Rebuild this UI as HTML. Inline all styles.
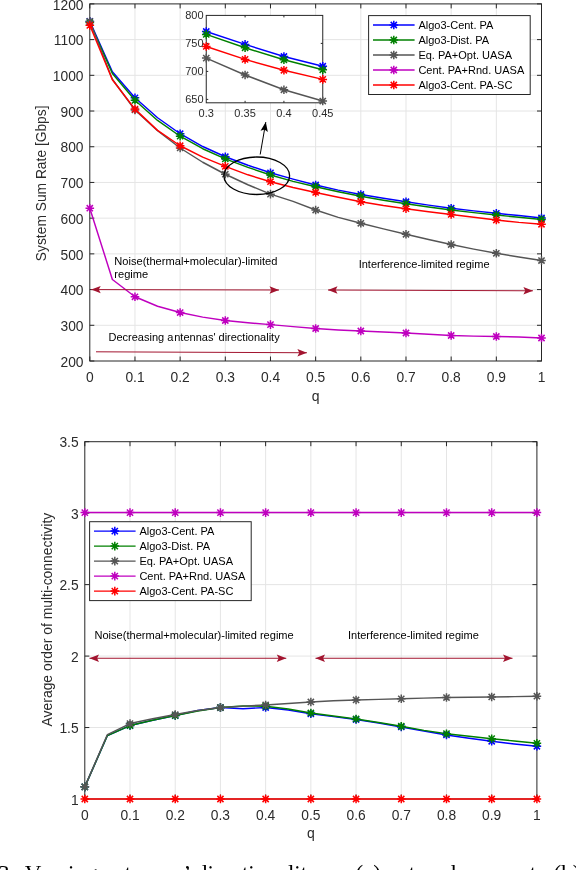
<!DOCTYPE html>
<html><head><meta charset="utf-8"><style>
html,body{margin:0;padding:0;background:#fff;width:576px;height:870px;overflow:hidden}
svg{display:block;will-change:transform}
text{font-family:"Liberation Sans", sans-serif}
</style></head><body>
<svg width="576" height="870" viewBox="0 0 576 870">
<rect width="576" height="870" fill="#fff"/>
<line x1="134.97" y1="3.9" x2="134.97" y2="361" stroke="#e5e5e5" stroke-width="1"/>
<line x1="180.14" y1="3.9" x2="180.14" y2="361" stroke="#e5e5e5" stroke-width="1"/>
<line x1="225.31" y1="3.9" x2="225.31" y2="361" stroke="#e5e5e5" stroke-width="1"/>
<line x1="270.48" y1="3.9" x2="270.48" y2="361" stroke="#e5e5e5" stroke-width="1"/>
<line x1="315.65" y1="3.9" x2="315.65" y2="361" stroke="#e5e5e5" stroke-width="1"/>
<line x1="360.82" y1="3.9" x2="360.82" y2="361" stroke="#e5e5e5" stroke-width="1"/>
<line x1="405.99" y1="3.9" x2="405.99" y2="361" stroke="#e5e5e5" stroke-width="1"/>
<line x1="451.16" y1="3.9" x2="451.16" y2="361" stroke="#e5e5e5" stroke-width="1"/>
<line x1="496.33" y1="3.9" x2="496.33" y2="361" stroke="#e5e5e5" stroke-width="1"/>
<line x1="89.8" y1="325.29" x2="541.5" y2="325.29" stroke="#e5e5e5" stroke-width="1"/>
<line x1="89.8" y1="289.58" x2="541.5" y2="289.58" stroke="#e5e5e5" stroke-width="1"/>
<line x1="89.8" y1="253.87" x2="541.5" y2="253.87" stroke="#e5e5e5" stroke-width="1"/>
<line x1="89.8" y1="218.16" x2="541.5" y2="218.16" stroke="#e5e5e5" stroke-width="1"/>
<line x1="89.8" y1="182.45" x2="541.5" y2="182.45" stroke="#e5e5e5" stroke-width="1"/>
<line x1="89.8" y1="146.74" x2="541.5" y2="146.74" stroke="#e5e5e5" stroke-width="1"/>
<line x1="89.8" y1="111.03" x2="541.5" y2="111.03" stroke="#e5e5e5" stroke-width="1"/>
<line x1="89.8" y1="75.32" x2="541.5" y2="75.32" stroke="#e5e5e5" stroke-width="1"/>
<line x1="89.8" y1="39.61" x2="541.5" y2="39.61" stroke="#e5e5e5" stroke-width="1"/>
<rect x="89.8" y="3.9" width="451.7" height="357.1" fill="none" stroke="#262626" stroke-width="1"/>
<path d="M89.8,361v-4.5M89.8,3.9v4.5" stroke="#262626" stroke-width="1"/>
<path d="M134.97,361v-4.5M134.97,3.9v4.5" stroke="#262626" stroke-width="1"/>
<path d="M180.14,361v-4.5M180.14,3.9v4.5" stroke="#262626" stroke-width="1"/>
<path d="M225.31,361v-4.5M225.31,3.9v4.5" stroke="#262626" stroke-width="1"/>
<path d="M270.48,361v-4.5M270.48,3.9v4.5" stroke="#262626" stroke-width="1"/>
<path d="M315.65,361v-4.5M315.65,3.9v4.5" stroke="#262626" stroke-width="1"/>
<path d="M360.82,361v-4.5M360.82,3.9v4.5" stroke="#262626" stroke-width="1"/>
<path d="M405.99,361v-4.5M405.99,3.9v4.5" stroke="#262626" stroke-width="1"/>
<path d="M451.16,361v-4.5M451.16,3.9v4.5" stroke="#262626" stroke-width="1"/>
<path d="M496.33,361v-4.5M496.33,3.9v4.5" stroke="#262626" stroke-width="1"/>
<path d="M541.5,361v-4.5M541.5,3.9v4.5" stroke="#262626" stroke-width="1"/>
<path d="M89.8,361h4.5M541.5,361h-4.5" stroke="#262626" stroke-width="1"/>
<path d="M89.8,325.29h4.5M541.5,325.29h-4.5" stroke="#262626" stroke-width="1"/>
<path d="M89.8,289.58h4.5M541.5,289.58h-4.5" stroke="#262626" stroke-width="1"/>
<path d="M89.8,253.87h4.5M541.5,253.87h-4.5" stroke="#262626" stroke-width="1"/>
<path d="M89.8,218.16h4.5M541.5,218.16h-4.5" stroke="#262626" stroke-width="1"/>
<path d="M89.8,182.45h4.5M541.5,182.45h-4.5" stroke="#262626" stroke-width="1"/>
<path d="M89.8,146.74h4.5M541.5,146.74h-4.5" stroke="#262626" stroke-width="1"/>
<path d="M89.8,111.03h4.5M541.5,111.03h-4.5" stroke="#262626" stroke-width="1"/>
<path d="M89.8,75.32h4.5M541.5,75.32h-4.5" stroke="#262626" stroke-width="1"/>
<path d="M89.8,39.61h4.5M541.5,39.61h-4.5" stroke="#262626" stroke-width="1"/>
<path d="M89.8,3.9h4.5M541.5,3.9h-4.5" stroke="#262626" stroke-width="1"/>
<path d="M89.8,21.4 L112.38,71.75 L134.97,97.82 L157.56,117.74 L180.14,133.74 L202.72,146.51 L225.31,156.74 L247.89,165.24 L270.48,172.81 L293.06,179.16 L315.65,184.99 L338.24,190.1 L360.82,194.48 L383.41,198.27 L405.99,201.73 L428.57,205.11 L451.16,208.23 L473.75,210.9 L496.33,213.27 L518.91,215.55 L541.5,217.98" stroke="#0000ff" stroke-width="1.45" fill="none" stroke-linejoin="round"/>
<path d="M85.5,21.4h8.6M89.8,17.1v8.6M86.7,18.3l6.2,6.2M86.7,24.5l6.2,-6.2" stroke="#0000ff" stroke-width="1.5" fill="none"/>
<path d="M130.67,97.82h8.6M134.97,93.52v8.6M131.87,94.72l6.2,6.2M131.87,100.92l6.2,-6.2" stroke="#0000ff" stroke-width="1.5" fill="none"/>
<path d="M175.84,133.74h8.6M180.14,129.44v8.6M177.04,130.64l6.2,6.2M177.04,136.84l6.2,-6.2" stroke="#0000ff" stroke-width="1.5" fill="none"/>
<path d="M221.01,156.74h8.6M225.31,152.44v8.6M222.21,153.64l6.2,6.2M222.21,159.84l6.2,-6.2" stroke="#0000ff" stroke-width="1.5" fill="none"/>
<path d="M266.18,172.81h8.6M270.48,168.51v8.6M267.38,169.71l6.2,6.2M267.38,175.91l6.2,-6.2" stroke="#0000ff" stroke-width="1.5" fill="none"/>
<path d="M311.35,184.99h8.6M315.65,180.69v8.6M312.55,181.89l6.2,6.2M312.55,188.09l6.2,-6.2" stroke="#0000ff" stroke-width="1.5" fill="none"/>
<path d="M356.52,194.48h8.6M360.82,190.18v8.6M357.72,191.38l6.2,6.2M357.72,197.58l6.2,-6.2" stroke="#0000ff" stroke-width="1.5" fill="none"/>
<path d="M401.69,201.73h8.6M405.99,197.43v8.6M402.89,198.63l6.2,6.2M402.89,204.83l6.2,-6.2" stroke="#0000ff" stroke-width="1.5" fill="none"/>
<path d="M446.86,208.23h8.6M451.16,203.93v8.6M448.06,205.13l6.2,6.2M448.06,211.33l6.2,-6.2" stroke="#0000ff" stroke-width="1.5" fill="none"/>
<path d="M492.03,213.27h8.6M496.33,208.97v8.6M493.23,210.17l6.2,6.2M493.23,216.37l6.2,-6.2" stroke="#0000ff" stroke-width="1.5" fill="none"/>
<path d="M537.2,217.98h8.6M541.5,213.68v8.6M538.4,214.88l6.2,6.2M538.4,221.08l6.2,-6.2" stroke="#0000ff" stroke-width="1.5" fill="none"/>
<path d="M89.8,22.47 L112.38,73.53 L134.97,100.32 L157.56,120.42 L180.14,136.24 L202.72,148.72 L225.31,158.81 L247.89,167.38 L270.48,174.95 L293.06,181.41 L315.65,186.74 L338.24,191.68 L360.82,196.23 L383.41,200.2 L405.99,203.73 L428.57,207 L451.16,209.98 L473.75,212.63 L496.33,215.02 L518.91,217.26 L541.5,219.48" stroke="#008000" stroke-width="1.45" fill="none" stroke-linejoin="round"/>
<path d="M85.5,22.47h8.6M89.8,18.17v8.6M86.7,19.37l6.2,6.2M86.7,25.57l6.2,-6.2" stroke="#008000" stroke-width="1.5" fill="none"/>
<path d="M130.67,100.32h8.6M134.97,96.02v8.6M131.87,97.22l6.2,6.2M131.87,103.42l6.2,-6.2" stroke="#008000" stroke-width="1.5" fill="none"/>
<path d="M175.84,136.24h8.6M180.14,131.94v8.6M177.04,133.14l6.2,6.2M177.04,139.34l6.2,-6.2" stroke="#008000" stroke-width="1.5" fill="none"/>
<path d="M221.01,158.81h8.6M225.31,154.51v8.6M222.21,155.71l6.2,6.2M222.21,161.91l6.2,-6.2" stroke="#008000" stroke-width="1.5" fill="none"/>
<path d="M266.18,174.95h8.6M270.48,170.65v8.6M267.38,171.85l6.2,6.2M267.38,178.05l6.2,-6.2" stroke="#008000" stroke-width="1.5" fill="none"/>
<path d="M311.35,186.74h8.6M315.65,182.44v8.6M312.55,183.64l6.2,6.2M312.55,189.84l6.2,-6.2" stroke="#008000" stroke-width="1.5" fill="none"/>
<path d="M356.52,196.23h8.6M360.82,191.93v8.6M357.72,193.13l6.2,6.2M357.72,199.33l6.2,-6.2" stroke="#008000" stroke-width="1.5" fill="none"/>
<path d="M401.69,203.73h8.6M405.99,199.43v8.6M402.89,200.63l6.2,6.2M402.89,206.83l6.2,-6.2" stroke="#008000" stroke-width="1.5" fill="none"/>
<path d="M446.86,209.98h8.6M451.16,205.68v8.6M448.06,206.88l6.2,6.2M448.06,213.08l6.2,-6.2" stroke="#008000" stroke-width="1.5" fill="none"/>
<path d="M492.03,215.02h8.6M496.33,210.72v8.6M493.23,211.92l6.2,6.2M493.23,218.12l6.2,-6.2" stroke="#008000" stroke-width="1.5" fill="none"/>
<path d="M537.2,219.48h8.6M541.5,215.18v8.6M538.4,216.38l6.2,6.2M538.4,222.58l6.2,-6.2" stroke="#008000" stroke-width="1.5" fill="none"/>
<path d="M89.8,21.4 L112.38,79.25 L134.97,109.96 L157.56,130.78 L180.14,147.99 L202.72,162.25 L225.31,174.24 L247.89,184.74 L270.48,194.13 L293.06,201.34 L315.65,210.02 L338.24,217.34 L360.82,223.27 L383.41,228.84 L405.99,234.27 L428.57,239.53 L451.16,244.51 L473.75,249.09 L496.33,253.26 L518.91,257.06 L541.5,260.51" stroke="#555555" stroke-width="1.45" fill="none" stroke-linejoin="round"/>
<path d="M85.5,21.4h8.6M89.8,17.1v8.6M86.7,18.3l6.2,6.2M86.7,24.5l6.2,-6.2" stroke="#555555" stroke-width="1.5" fill="none"/>
<path d="M130.67,109.96h8.6M134.97,105.66v8.6M131.87,106.86l6.2,6.2M131.87,113.06l6.2,-6.2" stroke="#555555" stroke-width="1.5" fill="none"/>
<path d="M175.84,147.99h8.6M180.14,143.69v8.6M177.04,144.89l6.2,6.2M177.04,151.09l6.2,-6.2" stroke="#555555" stroke-width="1.5" fill="none"/>
<path d="M221.01,174.24h8.6M225.31,169.94v8.6M222.21,171.14l6.2,6.2M222.21,177.34l6.2,-6.2" stroke="#555555" stroke-width="1.5" fill="none"/>
<path d="M266.18,194.13h8.6M270.48,189.83v8.6M267.38,191.03l6.2,6.2M267.38,197.23l6.2,-6.2" stroke="#555555" stroke-width="1.5" fill="none"/>
<path d="M311.35,210.02h8.6M315.65,205.72v8.6M312.55,206.92l6.2,6.2M312.55,213.12l6.2,-6.2" stroke="#555555" stroke-width="1.5" fill="none"/>
<path d="M356.52,223.27h8.6M360.82,218.97v8.6M357.72,220.17l6.2,6.2M357.72,226.37l6.2,-6.2" stroke="#555555" stroke-width="1.5" fill="none"/>
<path d="M401.69,234.27h8.6M405.99,229.97v8.6M402.89,231.17l6.2,6.2M402.89,237.37l6.2,-6.2" stroke="#555555" stroke-width="1.5" fill="none"/>
<path d="M446.86,244.51h8.6M451.16,240.21v8.6M448.06,241.41l6.2,6.2M448.06,247.61l6.2,-6.2" stroke="#555555" stroke-width="1.5" fill="none"/>
<path d="M492.03,253.26h8.6M496.33,248.96v8.6M493.23,250.16l6.2,6.2M493.23,256.36l6.2,-6.2" stroke="#555555" stroke-width="1.5" fill="none"/>
<path d="M537.2,260.51h8.6M541.5,256.21v8.6M538.4,257.41l6.2,6.2M538.4,263.61l6.2,-6.2" stroke="#555555" stroke-width="1.5" fill="none"/>
<path d="M89.8,208.23 L112.38,279.51 L134.97,296.76 L157.56,306.26 L180.14,312.51 L202.72,317.14 L225.31,320.5 L247.89,322.77 L270.48,324.61 L293.06,326.61 L315.65,328.5 L338.24,329.93 L360.82,331 L383.41,331.94 L405.99,333 L428.57,334.33 L451.16,335.5 L473.75,336.14 L496.33,336.5 L518.91,336.99 L541.5,338" stroke="#bf00bf" stroke-width="1.45" fill="none" stroke-linejoin="round"/>
<path d="M85.5,208.23h8.6M89.8,203.93v8.6M86.7,205.13l6.2,6.2M86.7,211.33l6.2,-6.2" stroke="#bf00bf" stroke-width="1.5" fill="none"/>
<path d="M130.67,296.76h8.6M134.97,292.46v8.6M131.87,293.66l6.2,6.2M131.87,299.86l6.2,-6.2" stroke="#bf00bf" stroke-width="1.5" fill="none"/>
<path d="M175.84,312.51h8.6M180.14,308.21v8.6M177.04,309.41l6.2,6.2M177.04,315.61l6.2,-6.2" stroke="#bf00bf" stroke-width="1.5" fill="none"/>
<path d="M221.01,320.5h8.6M225.31,316.2v8.6M222.21,317.4l6.2,6.2M222.21,323.6l6.2,-6.2" stroke="#bf00bf" stroke-width="1.5" fill="none"/>
<path d="M266.18,324.61h8.6M270.48,320.31v8.6M267.38,321.51l6.2,6.2M267.38,327.71l6.2,-6.2" stroke="#bf00bf" stroke-width="1.5" fill="none"/>
<path d="M311.35,328.5h8.6M315.65,324.2v8.6M312.55,325.4l6.2,6.2M312.55,331.6l6.2,-6.2" stroke="#bf00bf" stroke-width="1.5" fill="none"/>
<path d="M356.52,331h8.6M360.82,326.7v8.6M357.72,327.9l6.2,6.2M357.72,334.1l6.2,-6.2" stroke="#bf00bf" stroke-width="1.5" fill="none"/>
<path d="M401.69,333h8.6M405.99,328.7v8.6M402.89,329.9l6.2,6.2M402.89,336.1l6.2,-6.2" stroke="#bf00bf" stroke-width="1.5" fill="none"/>
<path d="M446.86,335.5h8.6M451.16,331.2v8.6M448.06,332.4l6.2,6.2M448.06,338.6l6.2,-6.2" stroke="#bf00bf" stroke-width="1.5" fill="none"/>
<path d="M492.03,336.5h8.6M496.33,332.2v8.6M493.23,333.4l6.2,6.2M493.23,339.6l6.2,-6.2" stroke="#bf00bf" stroke-width="1.5" fill="none"/>
<path d="M537.2,338h8.6M541.5,333.7v8.6M538.4,334.9l6.2,6.2M538.4,341.1l6.2,-6.2" stroke="#bf00bf" stroke-width="1.5" fill="none"/>
<path d="M89.8,25.33 L112.38,79.78 L134.97,109.1 L157.56,130.36 L180.14,145.74 L202.72,157.12 L225.31,166.38 L247.89,174.81 L270.48,181.74 L293.06,187.56 L315.65,192.48 L338.24,197.27 L360.82,201.73 L383.41,205.51 L405.99,208.73 L428.57,211.66 L451.16,214.48 L473.75,217.31 L496.33,220.02 L518.91,222.4 L541.5,224.27" stroke="#ff0000" stroke-width="1.45" fill="none" stroke-linejoin="round"/>
<path d="M85.5,25.33h8.6M89.8,21.03v8.6M86.7,22.23l6.2,6.2M86.7,28.43l6.2,-6.2" stroke="#ff0000" stroke-width="1.5" fill="none"/>
<path d="M130.67,109.1h8.6M134.97,104.8v8.6M131.87,106l6.2,6.2M131.87,112.2l6.2,-6.2" stroke="#ff0000" stroke-width="1.5" fill="none"/>
<path d="M175.84,145.74h8.6M180.14,141.44v8.6M177.04,142.64l6.2,6.2M177.04,148.84l6.2,-6.2" stroke="#ff0000" stroke-width="1.5" fill="none"/>
<path d="M221.01,166.38h8.6M225.31,162.08v8.6M222.21,163.28l6.2,6.2M222.21,169.48l6.2,-6.2" stroke="#ff0000" stroke-width="1.5" fill="none"/>
<path d="M266.18,181.74h8.6M270.48,177.44v8.6M267.38,178.64l6.2,6.2M267.38,184.84l6.2,-6.2" stroke="#ff0000" stroke-width="1.5" fill="none"/>
<path d="M311.35,192.48h8.6M315.65,188.18v8.6M312.55,189.38l6.2,6.2M312.55,195.58l6.2,-6.2" stroke="#ff0000" stroke-width="1.5" fill="none"/>
<path d="M356.52,201.73h8.6M360.82,197.43v8.6M357.72,198.63l6.2,6.2M357.72,204.83l6.2,-6.2" stroke="#ff0000" stroke-width="1.5" fill="none"/>
<path d="M401.69,208.73h8.6M405.99,204.43v8.6M402.89,205.63l6.2,6.2M402.89,211.83l6.2,-6.2" stroke="#ff0000" stroke-width="1.5" fill="none"/>
<path d="M446.86,214.48h8.6M451.16,210.18v8.6M448.06,211.38l6.2,6.2M448.06,217.58l6.2,-6.2" stroke="#ff0000" stroke-width="1.5" fill="none"/>
<path d="M492.03,220.02h8.6M496.33,215.72v8.6M493.23,216.92l6.2,6.2M493.23,223.12l6.2,-6.2" stroke="#ff0000" stroke-width="1.5" fill="none"/>
<path d="M537.2,224.27h8.6M541.5,219.97v8.6M538.4,221.17l6.2,6.2M538.4,227.37l6.2,-6.2" stroke="#ff0000" stroke-width="1.5" fill="none"/>
<text x="89.8" y="381.5" font-size="13.8" fill="#2b2b2b" text-anchor="middle" >0</text>
<text x="134.97" y="381.5" font-size="13.8" fill="#2b2b2b" text-anchor="middle" >0.1</text>
<text x="180.14" y="381.5" font-size="13.8" fill="#2b2b2b" text-anchor="middle" >0.2</text>
<text x="225.31" y="381.5" font-size="13.8" fill="#2b2b2b" text-anchor="middle" >0.3</text>
<text x="270.48" y="381.5" font-size="13.8" fill="#2b2b2b" text-anchor="middle" >0.4</text>
<text x="315.65" y="381.5" font-size="13.8" fill="#2b2b2b" text-anchor="middle" >0.5</text>
<text x="360.82" y="381.5" font-size="13.8" fill="#2b2b2b" text-anchor="middle" >0.6</text>
<text x="405.99" y="381.5" font-size="13.8" fill="#2b2b2b" text-anchor="middle" >0.7</text>
<text x="451.16" y="381.5" font-size="13.8" fill="#2b2b2b" text-anchor="middle" >0.8</text>
<text x="496.33" y="381.5" font-size="13.8" fill="#2b2b2b" text-anchor="middle" >0.9</text>
<text x="541.5" y="381.5" font-size="13.8" fill="#2b2b2b" text-anchor="middle" >1</text>
<text x="83.5" y="366.7" font-size="13.8" fill="#2b2b2b" text-anchor="end" >200</text>
<text x="83.5" y="330.99" font-size="13.8" fill="#2b2b2b" text-anchor="end" >300</text>
<text x="83.5" y="295.28" font-size="13.8" fill="#2b2b2b" text-anchor="end" >400</text>
<text x="83.5" y="259.57" font-size="13.8" fill="#2b2b2b" text-anchor="end" >500</text>
<text x="83.5" y="223.86" font-size="13.8" fill="#2b2b2b" text-anchor="end" >600</text>
<text x="83.5" y="188.15" font-size="13.8" fill="#2b2b2b" text-anchor="end" >700</text>
<text x="83.5" y="152.44" font-size="13.8" fill="#2b2b2b" text-anchor="end" >800</text>
<text x="83.5" y="116.73" font-size="13.8" fill="#2b2b2b" text-anchor="end" >900</text>
<text x="83.5" y="81.02" font-size="13.8" fill="#2b2b2b" text-anchor="end" >1000</text>
<text x="83.5" y="45.31" font-size="13.8" fill="#2b2b2b" text-anchor="end" >1100</text>
<text x="83.5" y="9.6" font-size="13.8" fill="#2b2b2b" text-anchor="end" >1200</text>
<text x="315.65" y="401.3" font-size="14" fill="#2b2b2b" text-anchor="middle" >q</text>
<text transform="translate(45.6,183.3) rotate(-90)" x="0" y="0" font-size="13.8" fill="#2b2b2b" text-anchor="middle">System Sum Rate [Gbps]</text>
<text x="114.3" y="264.6" font-size="11.1" fill="#000" text-anchor="start" >Noise(thermal+molecular)-limited</text>
<text x="114.3" y="277.6" font-size="11.1" fill="#000" text-anchor="start" >regime</text>
<line x1="91.2" y1="289.6" x2="279" y2="290" stroke="#a2142f" stroke-width="1.0"/><path d="M91.2,289.6 L100.71,285.92 L98.8,289.62 L100.69,293.32 Z" fill="#a2142f"/><path d="M279,290 L269.49,293.68 L271.4,289.98 L269.51,286.28 Z" fill="#a2142f"/>
<text x="108.5" y="341.3" font-size="11.0" fill="#000" text-anchor="start" >Decreasing a&#8202;ntennas&#39; directionality</text>
<line x1="96" y1="351.8" x2="306.9" y2="352.75" stroke="#a2142f" stroke-width="1.0"/><path d="M306.9,352.75 L297.38,356.41 L299.3,352.72 L297.42,349.01 Z" fill="#a2142f"/>
<text x="358.7" y="268.3" font-size="11.0" fill="#000" text-anchor="start" >Interference-limited regime</text>
<line x1="328" y1="290" x2="532.9" y2="290.8" stroke="#a2142f" stroke-width="1.0"/><path d="M328,290 L337.51,286.34 L335.6,290.03 L337.49,293.74 Z" fill="#a2142f"/><path d="M532.9,290.8 L523.39,294.46 L525.3,290.77 L523.41,287.06 Z" fill="#a2142f"/>
<ellipse cx="256.75" cy="175.75" rx="32.85" ry="18.75" fill="none" stroke="#000" stroke-width="1.3"/>
<line x1="260.2" y1="154.5" x2="265.8" y2="122.1" stroke="#000" stroke-width="1.0"/><path d="M265.8,122.1 L267.83,132.09 L264.51,129.59 L260.54,130.83 Z" fill="#000"/>
<rect x="206.25" y="15.4" width="116.5" height="87.4" fill="#fff"/>
<rect x="206.25" y="15.4" width="116.5" height="87.4" fill="none" stroke="#262626" stroke-width="1"/>
<path d="M245.08,102.8v-2M245.08,15.4v2" stroke="#262626" stroke-width="1"/>
<path d="M283.92,102.8v-2M283.92,15.4v2" stroke="#262626" stroke-width="1"/>
<path d="M206.25,99.4h2M322.75,99.4h-2" stroke="#262626" stroke-width="1"/>
<path d="M206.25,71.4h2M322.75,71.4h-2" stroke="#262626" stroke-width="1"/>
<path d="M206.25,43.4h2M322.75,43.4h-2" stroke="#262626" stroke-width="1"/>
<path d="M206.25,31.5 L245.08,44.41 L283.92,56.5 L322.75,66.25" stroke="#0000ff" stroke-width="1.45" fill="none"/>
<path d="M201.95,31.5h8.6M206.25,27.2v8.6M203.15,28.4l6.2,6.2M203.15,34.6l6.2,-6.2" stroke="#0000ff" stroke-width="1.5" fill="none"/>
<path d="M240.78,44.41h8.6M245.08,40.11v8.6M241.98,41.31l6.2,6.2M241.98,47.51l6.2,-6.2" stroke="#0000ff" stroke-width="1.5" fill="none"/>
<path d="M279.62,56.5h8.6M283.92,52.2v8.6M280.82,53.4l6.2,6.2M280.82,59.6l6.2,-6.2" stroke="#0000ff" stroke-width="1.5" fill="none"/>
<path d="M318.45,66.25h8.6M322.75,61.95v8.6M319.65,63.15l6.2,6.2M319.65,69.35l6.2,-6.2" stroke="#0000ff" stroke-width="1.5" fill="none"/>
<path d="M206.25,34.38 L245.08,47.77 L283.92,59.75 L322.75,69.78" stroke="#008000" stroke-width="1.45" fill="none"/>
<path d="M201.95,34.38h8.6M206.25,30.08v8.6M203.15,31.28l6.2,6.2M203.15,37.48l6.2,-6.2" stroke="#008000" stroke-width="1.5" fill="none"/>
<path d="M240.78,47.77h8.6M245.08,43.47v8.6M241.98,44.67l6.2,6.2M241.98,50.87l6.2,-6.2" stroke="#008000" stroke-width="1.5" fill="none"/>
<path d="M279.62,59.75h8.6M283.92,55.45v8.6M280.82,56.65l6.2,6.2M280.82,62.85l6.2,-6.2" stroke="#008000" stroke-width="1.5" fill="none"/>
<path d="M318.45,69.78h8.6M322.75,65.48v8.6M319.65,66.68l6.2,6.2M319.65,72.88l6.2,-6.2" stroke="#008000" stroke-width="1.5" fill="none"/>
<path d="M206.25,58.1 L245.08,74.98 L283.92,89.77 L322.75,101.02" stroke="#555555" stroke-width="1.45" fill="none"/>
<path d="M201.95,58.1h8.6M206.25,53.8v8.6M203.15,55l6.2,6.2M203.15,61.2l6.2,-6.2" stroke="#555555" stroke-width="1.5" fill="none"/>
<path d="M240.78,74.98h8.6M245.08,70.68v8.6M241.98,71.88l6.2,6.2M241.98,78.08l6.2,-6.2" stroke="#555555" stroke-width="1.5" fill="none"/>
<path d="M279.62,89.77h8.6M283.92,85.47v8.6M280.82,86.67l6.2,6.2M280.82,92.87l6.2,-6.2" stroke="#555555" stroke-width="1.5" fill="none"/>
<path d="M318.45,101.02h8.6M322.75,96.72v8.6M319.65,97.92l6.2,6.2M319.65,104.12l6.2,-6.2" stroke="#555555" stroke-width="1.5" fill="none"/>
<path d="M206.25,46.48 L245.08,59.42 L283.92,70.25 L322.75,79.41" stroke="#ff0000" stroke-width="1.45" fill="none"/>
<path d="M201.95,46.48h8.6M206.25,42.18v8.6M203.15,43.38l6.2,6.2M203.15,49.58l6.2,-6.2" stroke="#ff0000" stroke-width="1.5" fill="none"/>
<path d="M240.78,59.42h8.6M245.08,55.12v8.6M241.98,56.32l6.2,6.2M241.98,62.52l6.2,-6.2" stroke="#ff0000" stroke-width="1.5" fill="none"/>
<path d="M279.62,70.25h8.6M283.92,65.95v8.6M280.82,67.15l6.2,6.2M280.82,73.35l6.2,-6.2" stroke="#ff0000" stroke-width="1.5" fill="none"/>
<path d="M318.45,79.41h8.6M322.75,75.11v8.6M319.65,76.31l6.2,6.2M319.65,82.51l6.2,-6.2" stroke="#ff0000" stroke-width="1.5" fill="none"/>
<text x="206.25" y="117.1" font-size="11" fill="#2b2b2b" text-anchor="middle" >0.3</text>
<text x="245.08" y="117.1" font-size="11" fill="#2b2b2b" text-anchor="middle" >0.35</text>
<text x="283.92" y="117.1" font-size="11" fill="#2b2b2b" text-anchor="middle" >0.4</text>
<text x="322.75" y="117.1" font-size="11" fill="#2b2b2b" text-anchor="middle" >0.45</text>
<text x="203.5" y="103.3" font-size="11" fill="#2b2b2b" text-anchor="end" >650</text>
<text x="203.5" y="75.3" font-size="11" fill="#2b2b2b" text-anchor="end" >700</text>
<text x="203.5" y="47.3" font-size="11" fill="#2b2b2b" text-anchor="end" >750</text>
<text x="203.5" y="19.3" font-size="11" fill="#2b2b2b" text-anchor="end" >800</text>
<rect x="368.6" y="15.6" width="161.6" height="78.9" fill="#fff" stroke="#262626" stroke-width="1"/><line x1="373" y1="25" x2="414.6" y2="25" stroke="#0000ff" stroke-width="1.45"/><path d="M389.5,25h8.6M393.8,20.7v8.6M390.7,21.9l6.2,6.2M390.7,28.1l6.2,-6.2" stroke="#0000ff" stroke-width="1.5" fill="none"/><text x="418.4" y="28.9" font-size="11.0" fill="#000" text-anchor="start" >Algo3-Cent. PA</text><line x1="373" y1="40" x2="414.6" y2="40" stroke="#008000" stroke-width="1.45"/><path d="M389.5,40h8.6M393.8,35.7v8.6M390.7,36.9l6.2,6.2M390.7,43.1l6.2,-6.2" stroke="#008000" stroke-width="1.5" fill="none"/><text x="418.4" y="43.9" font-size="11.0" fill="#000" text-anchor="start" >Algo3-Dist. PA</text><line x1="373" y1="55" x2="414.6" y2="55" stroke="#555555" stroke-width="1.45"/><path d="M389.5,55h8.6M393.8,50.7v8.6M390.7,51.9l6.2,6.2M390.7,58.1l6.2,-6.2" stroke="#555555" stroke-width="1.5" fill="none"/><text x="418.4" y="58.9" font-size="11.0" fill="#000" text-anchor="start" >Eq. PA+Opt. UASA</text><line x1="373" y1="70" x2="414.6" y2="70" stroke="#bf00bf" stroke-width="1.45"/><path d="M389.5,70h8.6M393.8,65.7v8.6M390.7,66.9l6.2,6.2M390.7,73.1l6.2,-6.2" stroke="#bf00bf" stroke-width="1.5" fill="none"/><text x="418.4" y="73.9" font-size="11.0" fill="#000" text-anchor="start" >Cent. PA+Rnd. UASA</text><line x1="373" y1="85" x2="414.6" y2="85" stroke="#ff0000" stroke-width="1.45"/><path d="M389.5,85h8.6M393.8,80.7v8.6M390.7,81.9l6.2,6.2M390.7,88.1l6.2,-6.2" stroke="#ff0000" stroke-width="1.5" fill="none"/><text x="418.4" y="88.9" font-size="11.0" fill="#000" text-anchor="start" >Algo3-Cent. PA-SC</text>
<line x1="130.01" y1="441.7" x2="130.01" y2="799" stroke="#e5e5e5" stroke-width="1"/>
<line x1="175.22" y1="441.7" x2="175.22" y2="799" stroke="#e5e5e5" stroke-width="1"/>
<line x1="220.43" y1="441.7" x2="220.43" y2="799" stroke="#e5e5e5" stroke-width="1"/>
<line x1="265.64" y1="441.7" x2="265.64" y2="799" stroke="#e5e5e5" stroke-width="1"/>
<line x1="310.85" y1="441.7" x2="310.85" y2="799" stroke="#e5e5e5" stroke-width="1"/>
<line x1="356.06" y1="441.7" x2="356.06" y2="799" stroke="#e5e5e5" stroke-width="1"/>
<line x1="401.27" y1="441.7" x2="401.27" y2="799" stroke="#e5e5e5" stroke-width="1"/>
<line x1="446.48" y1="441.7" x2="446.48" y2="799" stroke="#e5e5e5" stroke-width="1"/>
<line x1="491.69" y1="441.7" x2="491.69" y2="799" stroke="#e5e5e5" stroke-width="1"/>
<line x1="84.8" y1="727.54" x2="536.9" y2="727.54" stroke="#e5e5e5" stroke-width="1"/>
<line x1="84.8" y1="656.08" x2="536.9" y2="656.08" stroke="#e5e5e5" stroke-width="1"/>
<line x1="84.8" y1="584.62" x2="536.9" y2="584.62" stroke="#e5e5e5" stroke-width="1"/>
<line x1="84.8" y1="513.16" x2="536.9" y2="513.16" stroke="#e5e5e5" stroke-width="1"/>
<rect x="84.8" y="441.7" width="452.1" height="357.3" fill="none" stroke="#262626" stroke-width="1"/>
<path d="M84.8,799v-4.5M84.8,441.7v4.5" stroke="#262626" stroke-width="1"/>
<path d="M130.01,799v-4.5M130.01,441.7v4.5" stroke="#262626" stroke-width="1"/>
<path d="M175.22,799v-4.5M175.22,441.7v4.5" stroke="#262626" stroke-width="1"/>
<path d="M220.43,799v-4.5M220.43,441.7v4.5" stroke="#262626" stroke-width="1"/>
<path d="M265.64,799v-4.5M265.64,441.7v4.5" stroke="#262626" stroke-width="1"/>
<path d="M310.85,799v-4.5M310.85,441.7v4.5" stroke="#262626" stroke-width="1"/>
<path d="M356.06,799v-4.5M356.06,441.7v4.5" stroke="#262626" stroke-width="1"/>
<path d="M401.27,799v-4.5M401.27,441.7v4.5" stroke="#262626" stroke-width="1"/>
<path d="M446.48,799v-4.5M446.48,441.7v4.5" stroke="#262626" stroke-width="1"/>
<path d="M491.69,799v-4.5M491.69,441.7v4.5" stroke="#262626" stroke-width="1"/>
<path d="M536.9,799v-4.5M536.9,441.7v4.5" stroke="#262626" stroke-width="1"/>
<path d="M84.8,799h4.5M536.9,799h-4.5" stroke="#262626" stroke-width="1"/>
<path d="M84.8,727.54h4.5M536.9,727.54h-4.5" stroke="#262626" stroke-width="1"/>
<path d="M84.8,656.08h4.5M536.9,656.08h-4.5" stroke="#262626" stroke-width="1"/>
<path d="M84.8,584.62h4.5M536.9,584.62h-4.5" stroke="#262626" stroke-width="1"/>
<path d="M84.8,513.16h4.5M536.9,513.16h-4.5" stroke="#262626" stroke-width="1"/>
<path d="M84.8,441.7h4.5M536.9,441.7h-4.5" stroke="#262626" stroke-width="1"/>
<path d="M84.8,786.85 L107.41,735.54 L130.01,725.54 L152.62,720.27 L175.22,715.53 L197.82,710.42 L220.43,707.53 L243.03,708.67 L265.64,707.53 L288.25,709.93 L310.85,713.82 L333.45,716.62 L356.06,719.54 L378.67,723.09 L401.27,726.97 L423.88,730.97 L446.48,734.97 L469.08,738.31 L491.69,741.26 L514.29,743.91 L536.9,746.26" stroke="#0000ff" stroke-width="1.45" fill="none" stroke-linejoin="round"/>
<path d="M80.5,786.85h8.6M84.8,782.55v8.6M81.7,783.75l6.2,6.2M81.7,789.95l6.2,-6.2" stroke="#0000ff" stroke-width="1.5" fill="none"/>
<path d="M125.71,725.54h8.6M130.01,721.24v8.6M126.91,722.44l6.2,6.2M126.91,728.64l6.2,-6.2" stroke="#0000ff" stroke-width="1.5" fill="none"/>
<path d="M170.92,715.53h8.6M175.22,711.23v8.6M172.12,712.43l6.2,6.2M172.12,718.63l6.2,-6.2" stroke="#0000ff" stroke-width="1.5" fill="none"/>
<path d="M216.13,707.53h8.6M220.43,703.23v8.6M217.33,704.43l6.2,6.2M217.33,710.63l6.2,-6.2" stroke="#0000ff" stroke-width="1.5" fill="none"/>
<path d="M261.34,707.53h8.6M265.64,703.23v8.6M262.54,704.43l6.2,6.2M262.54,710.63l6.2,-6.2" stroke="#0000ff" stroke-width="1.5" fill="none"/>
<path d="M306.55,713.82h8.6M310.85,709.52v8.6M307.75,710.72l6.2,6.2M307.75,716.92l6.2,-6.2" stroke="#0000ff" stroke-width="1.5" fill="none"/>
<path d="M351.76,719.54h8.6M356.06,715.24v8.6M352.96,716.44l6.2,6.2M352.96,722.64l6.2,-6.2" stroke="#0000ff" stroke-width="1.5" fill="none"/>
<path d="M396.97,726.97h8.6M401.27,722.67v8.6M398.17,723.87l6.2,6.2M398.17,730.07l6.2,-6.2" stroke="#0000ff" stroke-width="1.5" fill="none"/>
<path d="M442.18,734.97h8.6M446.48,730.67v8.6M443.38,731.87l6.2,6.2M443.38,738.07l6.2,-6.2" stroke="#0000ff" stroke-width="1.5" fill="none"/>
<path d="M487.39,741.26h8.6M491.69,736.96v8.6M488.59,738.16l6.2,6.2M488.59,744.36l6.2,-6.2" stroke="#0000ff" stroke-width="1.5" fill="none"/>
<path d="M532.6,746.26h8.6M536.9,741.96v8.6M533.8,743.16l6.2,6.2M533.8,749.36l6.2,-6.2" stroke="#0000ff" stroke-width="1.5" fill="none"/>
<path d="M84.8,786.85 L107.41,735.54 L130.01,725.54 L152.62,720.27 L175.22,715.53 L197.82,710.96 L220.43,707.53 L243.03,705.96 L265.64,706.24 L288.25,708.93 L310.85,712.96 L333.45,715.93 L356.06,718.96 L378.67,722.46 L401.27,726.25 L423.88,730.4 L446.48,733.69 L469.08,736.31 L491.69,738.69 L514.29,741.03 L536.9,743.26" stroke="#008000" stroke-width="1.45" fill="none" stroke-linejoin="round"/>
<path d="M80.5,786.85h8.6M84.8,782.55v8.6M81.7,783.75l6.2,6.2M81.7,789.95l6.2,-6.2" stroke="#008000" stroke-width="1.5" fill="none"/>
<path d="M125.71,725.54h8.6M130.01,721.24v8.6M126.91,722.44l6.2,6.2M126.91,728.64l6.2,-6.2" stroke="#008000" stroke-width="1.5" fill="none"/>
<path d="M170.92,715.53h8.6M175.22,711.23v8.6M172.12,712.43l6.2,6.2M172.12,718.63l6.2,-6.2" stroke="#008000" stroke-width="1.5" fill="none"/>
<path d="M216.13,707.53h8.6M220.43,703.23v8.6M217.33,704.43l6.2,6.2M217.33,710.63l6.2,-6.2" stroke="#008000" stroke-width="1.5" fill="none"/>
<path d="M261.34,706.24h8.6M265.64,701.94v8.6M262.54,703.14l6.2,6.2M262.54,709.34l6.2,-6.2" stroke="#008000" stroke-width="1.5" fill="none"/>
<path d="M306.55,712.96h8.6M310.85,708.66v8.6M307.75,709.86l6.2,6.2M307.75,716.06l6.2,-6.2" stroke="#008000" stroke-width="1.5" fill="none"/>
<path d="M351.76,718.96h8.6M356.06,714.66v8.6M352.96,715.86l6.2,6.2M352.96,722.06l6.2,-6.2" stroke="#008000" stroke-width="1.5" fill="none"/>
<path d="M396.97,726.25h8.6M401.27,721.95v8.6M398.17,723.15l6.2,6.2M398.17,729.35l6.2,-6.2" stroke="#008000" stroke-width="1.5" fill="none"/>
<path d="M442.18,733.69h8.6M446.48,729.39v8.6M443.38,730.59l6.2,6.2M443.38,736.79l6.2,-6.2" stroke="#008000" stroke-width="1.5" fill="none"/>
<path d="M487.39,738.69h8.6M491.69,734.39v8.6M488.59,735.59l6.2,6.2M488.59,741.79l6.2,-6.2" stroke="#008000" stroke-width="1.5" fill="none"/>
<path d="M532.6,743.26h8.6M536.9,738.96v8.6M533.8,740.16l6.2,6.2M533.8,746.36l6.2,-6.2" stroke="#008000" stroke-width="1.5" fill="none"/>
<path d="M84.8,786.85 L107.41,734.54 L130.01,723.54 L152.62,718.77 L175.22,714.53 L197.82,710.52 L220.43,707.53 L243.03,706.12 L265.64,704.96 L288.25,703.41 L310.85,701.96 L333.45,700.84 L356.06,699.96 L378.67,699.35 L401.27,698.81 L423.88,698.12 L446.48,697.53 L469.08,697.22 L491.69,696.96 L514.29,696.62 L536.9,696.24" stroke="#555555" stroke-width="1.45" fill="none" stroke-linejoin="round"/>
<path d="M80.5,786.85h8.6M84.8,782.55v8.6M81.7,783.75l6.2,6.2M81.7,789.95l6.2,-6.2" stroke="#555555" stroke-width="1.5" fill="none"/>
<path d="M125.71,723.54h8.6M130.01,719.24v8.6M126.91,720.44l6.2,6.2M126.91,726.64l6.2,-6.2" stroke="#555555" stroke-width="1.5" fill="none"/>
<path d="M170.92,714.53h8.6M175.22,710.23v8.6M172.12,711.43l6.2,6.2M172.12,717.63l6.2,-6.2" stroke="#555555" stroke-width="1.5" fill="none"/>
<path d="M216.13,707.53h8.6M220.43,703.23v8.6M217.33,704.43l6.2,6.2M217.33,710.63l6.2,-6.2" stroke="#555555" stroke-width="1.5" fill="none"/>
<path d="M261.34,704.96h8.6M265.64,700.66v8.6M262.54,701.86l6.2,6.2M262.54,708.06l6.2,-6.2" stroke="#555555" stroke-width="1.5" fill="none"/>
<path d="M306.55,701.96h8.6M310.85,697.66v8.6M307.75,698.86l6.2,6.2M307.75,705.06l6.2,-6.2" stroke="#555555" stroke-width="1.5" fill="none"/>
<path d="M351.76,699.96h8.6M356.06,695.66v8.6M352.96,696.86l6.2,6.2M352.96,703.06l6.2,-6.2" stroke="#555555" stroke-width="1.5" fill="none"/>
<path d="M396.97,698.81h8.6M401.27,694.51v8.6M398.17,695.71l6.2,6.2M398.17,701.91l6.2,-6.2" stroke="#555555" stroke-width="1.5" fill="none"/>
<path d="M442.18,697.53h8.6M446.48,693.23v8.6M443.38,694.43l6.2,6.2M443.38,700.63l6.2,-6.2" stroke="#555555" stroke-width="1.5" fill="none"/>
<path d="M487.39,696.96h8.6M491.69,692.66v8.6M488.59,693.86l6.2,6.2M488.59,700.06l6.2,-6.2" stroke="#555555" stroke-width="1.5" fill="none"/>
<path d="M532.6,696.24h8.6M536.9,691.94v8.6M533.8,693.14l6.2,6.2M533.8,699.34l6.2,-6.2" stroke="#555555" stroke-width="1.5" fill="none"/>
<path d="M84.8,512.59 L107.41,512.59 L130.01,512.59 L152.62,512.59 L175.22,512.59 L197.82,512.59 L220.43,512.59 L243.03,512.59 L265.64,512.59 L288.25,512.59 L310.85,512.59 L333.45,512.59 L356.06,512.59 L378.67,512.59 L401.27,512.59 L423.88,512.59 L446.48,512.59 L469.08,512.59 L491.69,512.59 L514.29,512.59 L536.9,512.59" stroke="#bf00bf" stroke-width="1.45" fill="none" stroke-linejoin="round"/>
<path d="M80.5,512.59h8.6M84.8,508.29v8.6M81.7,509.49l6.2,6.2M81.7,515.69l6.2,-6.2" stroke="#bf00bf" stroke-width="1.5" fill="none"/>
<path d="M125.71,512.59h8.6M130.01,508.29v8.6M126.91,509.49l6.2,6.2M126.91,515.69l6.2,-6.2" stroke="#bf00bf" stroke-width="1.5" fill="none"/>
<path d="M170.92,512.59h8.6M175.22,508.29v8.6M172.12,509.49l6.2,6.2M172.12,515.69l6.2,-6.2" stroke="#bf00bf" stroke-width="1.5" fill="none"/>
<path d="M216.13,512.59h8.6M220.43,508.29v8.6M217.33,509.49l6.2,6.2M217.33,515.69l6.2,-6.2" stroke="#bf00bf" stroke-width="1.5" fill="none"/>
<path d="M261.34,512.59h8.6M265.64,508.29v8.6M262.54,509.49l6.2,6.2M262.54,515.69l6.2,-6.2" stroke="#bf00bf" stroke-width="1.5" fill="none"/>
<path d="M306.55,512.59h8.6M310.85,508.29v8.6M307.75,509.49l6.2,6.2M307.75,515.69l6.2,-6.2" stroke="#bf00bf" stroke-width="1.5" fill="none"/>
<path d="M351.76,512.59h8.6M356.06,508.29v8.6M352.96,509.49l6.2,6.2M352.96,515.69l6.2,-6.2" stroke="#bf00bf" stroke-width="1.5" fill="none"/>
<path d="M396.97,512.59h8.6M401.27,508.29v8.6M398.17,509.49l6.2,6.2M398.17,515.69l6.2,-6.2" stroke="#bf00bf" stroke-width="1.5" fill="none"/>
<path d="M442.18,512.59h8.6M446.48,508.29v8.6M443.38,509.49l6.2,6.2M443.38,515.69l6.2,-6.2" stroke="#bf00bf" stroke-width="1.5" fill="none"/>
<path d="M487.39,512.59h8.6M491.69,508.29v8.6M488.59,509.49l6.2,6.2M488.59,515.69l6.2,-6.2" stroke="#bf00bf" stroke-width="1.5" fill="none"/>
<path d="M532.6,512.59h8.6M536.9,508.29v8.6M533.8,509.49l6.2,6.2M533.8,515.69l6.2,-6.2" stroke="#bf00bf" stroke-width="1.5" fill="none"/>
<path d="M84.8,799 L107.41,799 L130.01,799 L152.62,799 L175.22,799 L197.82,799 L220.43,799 L243.03,799 L265.64,799 L288.25,799 L310.85,799 L333.45,799 L356.06,799 L378.67,799 L401.27,799 L423.88,799 L446.48,799 L469.08,799 L491.69,799 L514.29,799 L536.9,799" stroke="#ff0000" stroke-width="1.45" fill="none" stroke-linejoin="round"/>
<path d="M80.5,799h8.6M84.8,794.7v8.6M81.7,795.9l6.2,6.2M81.7,802.1l6.2,-6.2" stroke="#ff0000" stroke-width="1.5" fill="none"/>
<path d="M125.71,799h8.6M130.01,794.7v8.6M126.91,795.9l6.2,6.2M126.91,802.1l6.2,-6.2" stroke="#ff0000" stroke-width="1.5" fill="none"/>
<path d="M170.92,799h8.6M175.22,794.7v8.6M172.12,795.9l6.2,6.2M172.12,802.1l6.2,-6.2" stroke="#ff0000" stroke-width="1.5" fill="none"/>
<path d="M216.13,799h8.6M220.43,794.7v8.6M217.33,795.9l6.2,6.2M217.33,802.1l6.2,-6.2" stroke="#ff0000" stroke-width="1.5" fill="none"/>
<path d="M261.34,799h8.6M265.64,794.7v8.6M262.54,795.9l6.2,6.2M262.54,802.1l6.2,-6.2" stroke="#ff0000" stroke-width="1.5" fill="none"/>
<path d="M306.55,799h8.6M310.85,794.7v8.6M307.75,795.9l6.2,6.2M307.75,802.1l6.2,-6.2" stroke="#ff0000" stroke-width="1.5" fill="none"/>
<path d="M351.76,799h8.6M356.06,794.7v8.6M352.96,795.9l6.2,6.2M352.96,802.1l6.2,-6.2" stroke="#ff0000" stroke-width="1.5" fill="none"/>
<path d="M396.97,799h8.6M401.27,794.7v8.6M398.17,795.9l6.2,6.2M398.17,802.1l6.2,-6.2" stroke="#ff0000" stroke-width="1.5" fill="none"/>
<path d="M442.18,799h8.6M446.48,794.7v8.6M443.38,795.9l6.2,6.2M443.38,802.1l6.2,-6.2" stroke="#ff0000" stroke-width="1.5" fill="none"/>
<path d="M487.39,799h8.6M491.69,794.7v8.6M488.59,795.9l6.2,6.2M488.59,802.1l6.2,-6.2" stroke="#ff0000" stroke-width="1.5" fill="none"/>
<path d="M532.6,799h8.6M536.9,794.7v8.6M533.8,795.9l6.2,6.2M533.8,802.1l6.2,-6.2" stroke="#ff0000" stroke-width="1.5" fill="none"/>
<text x="84.8" y="819.7" font-size="13.8" fill="#2b2b2b" text-anchor="middle" >0</text>
<text x="130.01" y="819.7" font-size="13.8" fill="#2b2b2b" text-anchor="middle" >0.1</text>
<text x="175.22" y="819.7" font-size="13.8" fill="#2b2b2b" text-anchor="middle" >0.2</text>
<text x="220.43" y="819.7" font-size="13.8" fill="#2b2b2b" text-anchor="middle" >0.3</text>
<text x="265.64" y="819.7" font-size="13.8" fill="#2b2b2b" text-anchor="middle" >0.4</text>
<text x="310.85" y="819.7" font-size="13.8" fill="#2b2b2b" text-anchor="middle" >0.5</text>
<text x="356.06" y="819.7" font-size="13.8" fill="#2b2b2b" text-anchor="middle" >0.6</text>
<text x="401.27" y="819.7" font-size="13.8" fill="#2b2b2b" text-anchor="middle" >0.7</text>
<text x="446.48" y="819.7" font-size="13.8" fill="#2b2b2b" text-anchor="middle" >0.8</text>
<text x="491.69" y="819.7" font-size="13.8" fill="#2b2b2b" text-anchor="middle" >0.9</text>
<text x="536.9" y="819.7" font-size="13.8" fill="#2b2b2b" text-anchor="middle" >1</text>
<text x="78.6" y="804.7" font-size="13.8" fill="#2b2b2b" text-anchor="end" >1</text>
<text x="78.6" y="733.24" font-size="13.8" fill="#2b2b2b" text-anchor="end" >1.5</text>
<text x="78.6" y="661.78" font-size="13.8" fill="#2b2b2b" text-anchor="end" >2</text>
<text x="78.6" y="590.32" font-size="13.8" fill="#2b2b2b" text-anchor="end" >2.5</text>
<text x="78.6" y="518.86" font-size="13.8" fill="#2b2b2b" text-anchor="end" >3</text>
<text x="78.6" y="447.4" font-size="13.8" fill="#2b2b2b" text-anchor="end" >3.5</text>
<text x="310.85" y="838.2" font-size="14" fill="#2b2b2b" text-anchor="middle" >q</text>
<text transform="translate(52.1,619.6) rotate(-90)" x="0" y="0" font-size="13.9" fill="#2b2b2b" text-anchor="middle">Average order of multi-connectivity</text>
<text x="94.5" y="639.3" font-size="11.05" fill="#000" text-anchor="start" >Noise(thermal+molecular)-limited regime</text>
<line x1="89.5" y1="658.25" x2="286.25" y2="658.25" stroke="#a2142f" stroke-width="1.0"/><path d="M89.5,658.25 L99,654.55 L97.1,658.25 L99,661.95 Z" fill="#a2142f"/><path d="M286.25,658.25 L276.75,661.95 L278.65,658.25 L276.75,654.55 Z" fill="#a2142f"/>
<text x="348" y="639.3" font-size="11.0" fill="#000" text-anchor="start" >Interference-limited regime</text>
<line x1="315.5" y1="658.25" x2="512.5" y2="658.25" stroke="#a2142f" stroke-width="1.0"/><path d="M315.5,658.25 L325,654.55 L323.1,658.25 L325,661.95 Z" fill="#a2142f"/><path d="M512.5,658.25 L503,661.95 L504.9,658.25 L503,654.55 Z" fill="#a2142f"/>
<rect x="89.6" y="521.7" width="161.6" height="78.9" fill="#fff" stroke="#262626" stroke-width="1"/><line x1="94" y1="531.1" x2="135.6" y2="531.1" stroke="#0000ff" stroke-width="1.45"/><path d="M110.5,531.1h8.6M114.8,526.8v8.6M111.7,528l6.2,6.2M111.7,534.2l6.2,-6.2" stroke="#0000ff" stroke-width="1.5" fill="none"/><text x="139.4" y="535" font-size="11.0" fill="#000" text-anchor="start" >Algo3-Cent. PA</text><line x1="94" y1="546.1" x2="135.6" y2="546.1" stroke="#008000" stroke-width="1.45"/><path d="M110.5,546.1h8.6M114.8,541.8v8.6M111.7,543l6.2,6.2M111.7,549.2l6.2,-6.2" stroke="#008000" stroke-width="1.5" fill="none"/><text x="139.4" y="550" font-size="11.0" fill="#000" text-anchor="start" >Algo3-Dist. PA</text><line x1="94" y1="561.1" x2="135.6" y2="561.1" stroke="#555555" stroke-width="1.45"/><path d="M110.5,561.1h8.6M114.8,556.8v8.6M111.7,558l6.2,6.2M111.7,564.2l6.2,-6.2" stroke="#555555" stroke-width="1.5" fill="none"/><text x="139.4" y="565" font-size="11.0" fill="#000" text-anchor="start" >Eq. PA+Opt. UASA</text><line x1="94" y1="576.1" x2="135.6" y2="576.1" stroke="#bf00bf" stroke-width="1.45"/><path d="M110.5,576.1h8.6M114.8,571.8v8.6M111.7,573l6.2,6.2M111.7,579.2l6.2,-6.2" stroke="#bf00bf" stroke-width="1.5" fill="none"/><text x="139.4" y="580" font-size="11.0" fill="#000" text-anchor="start" >Cent. PA+Rnd. UASA</text><line x1="94" y1="591.1" x2="135.6" y2="591.1" stroke="#ff0000" stroke-width="1.45"/><path d="M110.5,591.1h8.6M114.8,586.8v8.6M111.7,588l6.2,6.2M111.7,594.2l6.2,-6.2" stroke="#ff0000" stroke-width="1.5" fill="none"/><text x="139.4" y="595" font-size="11.0" fill="#000" text-anchor="start" >Algo3-Cent. PA-SC</text>
<g style="font-family:'Liberation Serif', serif" font-size="23" fill="#000"><text x="-2" y="881" style="font-family:'Liberation Serif', serif">3:</text><text x="24.7" y="881" style="font-family:'Liberation Serif', serif">Varying</text><text x="103" y="881" style="font-family:'Liberation Serif', serif">antennas&#8217;</text><text x="196" y="881" style="font-family:'Liberation Serif', serif">directionality:</text><text x="355.5" y="881" style="font-family:'Liberation Serif', serif">(a)</text><text x="387" y="881" style="font-family:'Liberation Serif', serif">network</text><text x="468" y="881" style="font-family:'Liberation Serif', serif">sum</text><text x="512" y="881" style="font-family:'Liberation Serif', serif">rate,</text><text x="553.5" y="881" style="font-family:'Liberation Serif', serif">(b)</text></g>
</svg>
</body></html>
